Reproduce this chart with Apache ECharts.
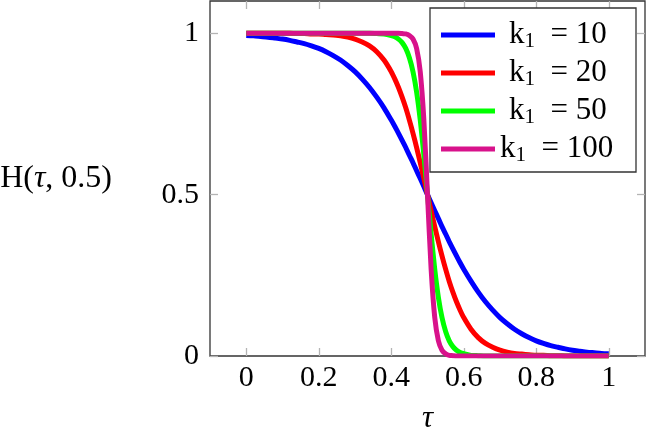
<!DOCTYPE html>
<html>
<head>
<meta charset="utf-8">
<script src="https://cdn.jsdelivr.net/npm/echarts@6/dist/echarts.min.js"></script>
<style>
  html, body { margin: 0; padding: 0; background: #fff; }
  #container { width: 646px; height: 427px; }
</style>
</head>
<body>
<div id="container"></div>
<script>
// τ sample points, denser around the jump at 0.5
const tau = [0, 0.02, 0.04, 0.06, 0.08, 0.1, 0.12, 0.14, 0.16, 0.18, 0.2, 0.22, 0.24, 0.26, 0.28, 0.3, 0.32, 0.34, 0.36, 0.38,
  0.4, 0.41, 0.42, 0.43, 0.44, 0.45, 0.46, 0.47, 0.48, 0.49, 0.5, 0.51, 0.52, 0.53, 0.54, 0.55, 0.56, 0.57, 0.58, 0.59, 0.6,
  0.62, 0.64, 0.66, 0.68, 0.7, 0.72, 0.74, 0.76, 0.78, 0.8, 0.82, 0.84, 0.86, 0.88, 0.9, 0.92, 0.94, 0.96, 0.98, 1]
// H(τ, 0.5) for each k1
const k10 = [0.993, 0.992, 0.990, 0.988, 0.985, 0.982, 0.978, 0.973, 0.968, 0.961, 0.953, 0.943, 0.931, 0.917, 0.900, 0.881, 0.858, 0.832, 0.802, 0.769,
  0.731, 0.711, 0.690, 0.668, 0.646, 0.622, 0.599, 0.574, 0.550, 0.525, 0.5, 0.475, 0.450, 0.426, 0.401, 0.378, 0.354, 0.332, 0.310, 0.289, 0.269,
  0.232, 0.198, 0.168, 0.142, 0.119, 0.100, 0.083, 0.069, 0.057, 0.047, 0.039, 0.032, 0.027, 0.022, 0.018, 0.015, 0.012, 0.010, 0.008, 0.007]
const k20 = [1, 1, 1, 1, 1, 1, 1, 0.999, 0.999, 0.998, 0.998, 0.996, 0.995, 0.992, 0.988, 0.982, 0.973, 0.961, 0.943, 0.917,
  0.881, 0.858, 0.832, 0.802, 0.769, 0.731, 0.690, 0.646, 0.599, 0.550, 0.5, 0.450, 0.401, 0.354, 0.310, 0.269, 0.231, 0.198, 0.168, 0.142, 0.119,
  0.083, 0.057, 0.039, 0.027, 0.018, 0.012, 0.008, 0.006, 0.004, 0.002, 0.002, 0.001, 0.001, 0, 0, 0, 0, 0, 0, 0]
const k50 = [1, 1, 1, 1, 1, 1, 1, 1, 1, 1, 1, 1, 1, 1, 1, 1, 1, 1, 0.999, 0.998,
  0.993, 0.989, 0.982, 0.971, 0.953, 0.924, 0.881, 0.818, 0.731, 0.622, 0.5, 0.378, 0.269, 0.182, 0.119, 0.076, 0.047, 0.029, 0.018, 0.011, 0.007,
  0.002, 0.001, 0, 0, 0, 0, 0, 0, 0, 0, 0, 0, 0, 0, 0, 0, 0, 0, 0, 0]
const k100 = [1, 1, 1, 1, 1, 1, 1, 1, 1, 1, 1, 1, 1, 1, 1, 1, 1, 1, 1, 1,
  1, 1, 1, 0.999, 0.998, 0.993, 0.982, 0.953, 0.881, 0.731, 0.5, 0.269, 0.119, 0.047, 0.018, 0.007, 0.002, 0.001, 0, 0, 0,
  0, 0, 0, 0, 0, 0, 0, 0, 0, 0, 0, 0, 0, 0, 0, 0, 0, 0, 0, 0]
const seriesNames = ['10', '20', '50', '100']
const xTicks = [0, 0.2, 0.4, 0.6, 0.8, 1]
const yTicks = [0, 0.5, 1]

const font = '"Liberation Serif", "DejaVu Serif", serif'
const colors = ['#0000ff', '#ff0000', '#00ff00', '#d8128b']

const pairs = (ys) => tau.map((t, i) => [t, ys[i]])

const tickStyle = { inside: true, length: 8, lineStyle: { color: '#b4b4b4', width: 1.3 } }

const dom = document.getElementById('container')
const myChart = echarts.init(dom)
const option = {
  animation: false,
  color: colors,
  grid: {
    left: 210,
    top: 1,
    width: 435,
    height: 355,
    outerBoundsMode: 'none',
    containLabel: false,
    show: true,
    borderColor: '#333',
    borderWidth: 1.3
  },
  legend: {
    right: 10,
    top: 8,
    orient: 'vertical',
    backgroundColor: '#fff',
    borderColor: '#333',
    borderWidth: 1.3,
    borderRadius: 0,
    padding: [10, 14, 6, 11],
    itemGap: 4,
    itemWidth: 54,
    itemHeight: 5,
    icon: 'rect',
    data: seriesNames.map(n => 'k' + n),
    // 文本居中：两位数的条目往右挪一点
    formatter: (name) => {
      const v = name.slice(1)
      return (v.length > 2 ? '{k|k}' : '{kp|k}') + '{s|1}{k|  = ' + v + '}'
    },
    textStyle: {
      width: 122,
      lineHeight: 30,
      rich: {
        k: { fontFamily: font, fontSize: 31, color: '#000', lineHeight: 30 },
        kp: { fontFamily: font, fontSize: 31, color: '#000', lineHeight: 30, padding: [0, 0, 0, 9] },
        s: { fontFamily: font, fontSize: 21, color: '#000', lineHeight: 30, padding: [13, 0, 0, 0] }
      }
    }
  },
  xAxis: [
    {
      type: 'value',
      min: -0.1,
      max: 1.1,
      name: 'τ',
      nameLocation: 'middle',
      nameGap: 47,
      nameTextStyle: { fontFamily: font, fontSize: 31, fontStyle: 'italic', color: '#000' },
      axisLine: { show: false, onZero: false },
      splitLine: { show: false },
      axisTick: Object.assign({ customValues: xTicks }, tickStyle),
      axisLabel: { customValues: xTicks, fontFamily: font, fontSize: 30, color: '#000', margin: 7 }
    },
    {
      type: 'value',
      position: 'top',
      min: -0.1,
      max: 1.1,
      axisLine: { show: false, onZero: false },
      splitLine: { show: false },
      axisTick: Object.assign({ customValues: xTicks }, tickStyle),
      axisLabel: { show: false }
    }
  ],
  yAxis: [
    {
      type: 'value',
      min: 0,
      max: 1.1,
      name: '{n|H(}{t|τ}{n|, 0.5)}',
      nameLocation: 'middle',
      nameRotate: 0,
      nameGap: 98,
      nameTextStyle: {
        align: 'right',
        rich: {
          n: { fontFamily: font, fontSize: 32, color: '#000' },
          t: { fontFamily: font, fontSize: 32, fontStyle: 'italic', color: '#000' }
        }
      },
      axisLine: { show: false, onZero: false },
      splitLine: { show: false },
      axisTick: Object.assign({ customValues: yTicks }, tickStyle),
      axisLabel: { customValues: yTicks, fontFamily: font, fontSize: 30, color: '#000', margin: 11 }
    },
    {
      type: 'value',
      position: 'right',
      min: 0,
      max: 1.1,
      axisLine: { show: false, onZero: false },
      splitLine: { show: false },
      axisTick: Object.assign({ customValues: yTicks }, tickStyle),
      axisLabel: { show: false }
    }
  ],
  series: [k10, k20, k50, k100].map((ys, i) => ({
    name: 'k' + seriesNames[i],
    type: 'line',
    data: pairs(ys),
    showSymbol: false,
    symbol: 'none',
    smooth: 0.25,
    lineStyle: { width: 5, color: colors[i], join: 'round', cap: 'butt' },
    itemStyle: { color: colors[i] }
  }))
}
myChart.setOption(option)
</script>
</body>
</html>
